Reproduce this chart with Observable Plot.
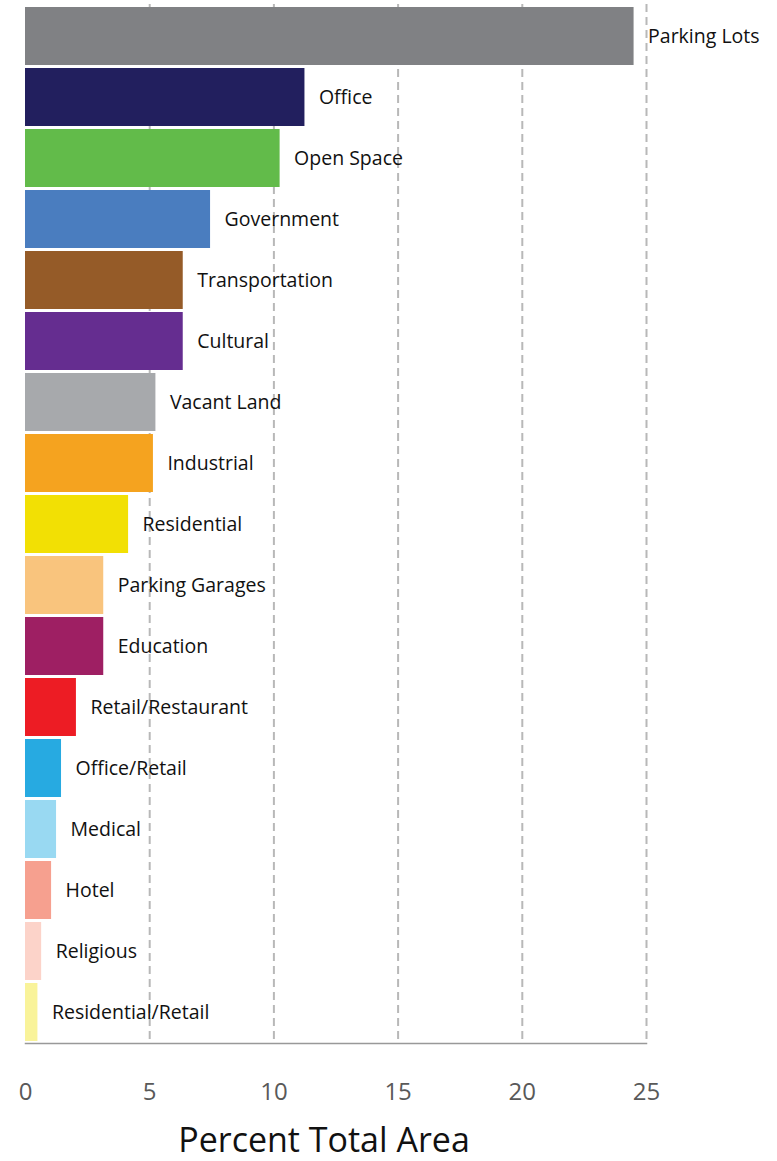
<!DOCTYPE html>
<html><head><meta charset="utf-8">
<script src="https://cdn.jsdelivr.net/npm/d3@7"></script>
<script src="https://cdn.jsdelivr.net/npm/@observablehq/plot@0.6"></script>
<style>
body{margin:0;background:#fff;font-family:"Open Sans",sans-serif}
#title{width:648px;height:46px;line-height:48px;text-align:center;font-size:34px;color:#111}
</style>
</head><body><div id="chart"></div><div id="title">Percent Total Area</div>
<script>
const categories = ["Parking Lots","Office","Open Space","Government","Transportation","Cultural","Vacant Land","Industrial","Residential","Parking Garages","Education","Retail/Restaurant","Office/Retail","Medical","Hotel","Religious","Residential/Retail"];
const values = [24.5,11.25,10.25,7.45,6.35,6.35,5.25,5.15,4.15,3.15,3.15,2.05,1.45,1.25,1.05,0.65,0.5];
const colors = ["#808184","#221f5e","#62bb4a","#4a7dbf","#955b28","#652d90","#a7a9ac","#f5a31f","#f2e004","#f9c47d","#9e1f63","#ed1c24","#27aae1","#99d9f2","#f6a08f","#fcd3c9","#f9f39a"];
const xTicks = [0,5,10,15,20,25];
const data = categories.map((c,i)=>({category:c, value:values[i]}));
const chart = Plot.plot({
  width:777, height:1115, marginLeft:25, marginRight:131, marginTop:4, marginBottom:72,
  x:{domain:[0,25]},
  y:{domain:categories, paddingInner:0.05, paddingOuter:0.02, axis:null},
  color:{domain:categories, range:colors},
  style:{fontFamily:"Open Sans", background:"#fff", overflow:"visible"},
  marks:[
    Plot.gridX(xTicks.slice(1), {stroke:"#b8b8b8", strokeOpacity:1, strokeWidth:2, strokeDasharray:"8,5"}),
    Plot.barX(data, {x:"value", y:"category", fill:"category"}),
    Plot.frame({anchor:"bottom", stroke:"#999", strokeWidth:1.5}),
    Plot.axisX(xTicks, {tickSize:0, tickPadding:39, fontSize:24, fill:"#595959", label:null}),
    Plot.text(data, {x:"value", y:"category", text:"category", textAnchor:"start", dx:14, fontSize:19.5, fill:"#111"})
  ]
});
document.getElementById("chart").appendChild(chart);
</script>
</body></html>
